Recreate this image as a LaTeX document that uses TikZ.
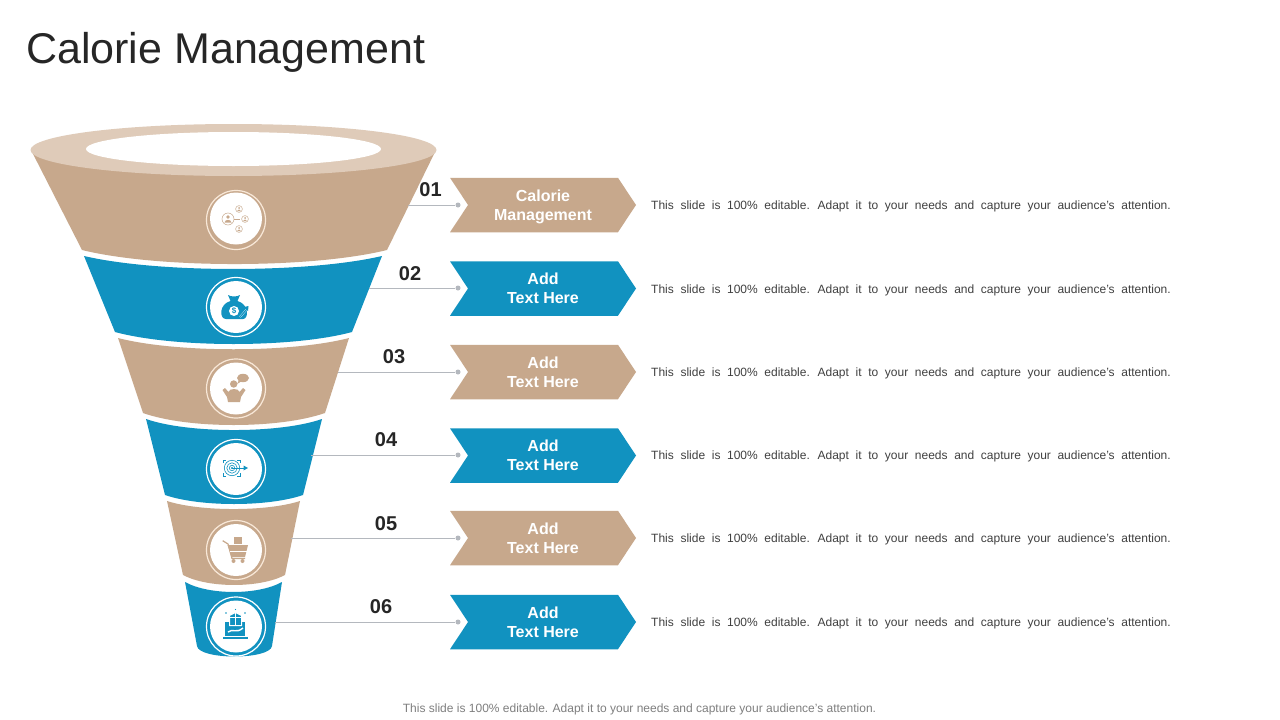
\documentclass[tikz,border=0pt]{standalone}
\usepackage{fontspec}
\setmainfont{Liberation Sans}
\usetikzlibrary{shapes.symbols}
\definecolor{tanc}{HTML}{C7A88C}
\definecolor{tanl}{HTML}{DFCBB9}
\definecolor{tanr}{HTML}{F8E8D8}
\definecolor{bluec}{HTML}{1192C0}
\definecolor{darkc}{HTML}{262626}
\definecolor{bodyc}{HTML}{404040}
\definecolor{leadc}{HTML}{B4B8BE}
\definecolor{footc}{HTML}{7F7F7F}
\newcommand{\bodytext}{This slide is 100\% editable. Adapt it to your needs and capture your audience's attention.}
\newcommand{\widewords}{\spaceskip=6.65pt\relax}
\newcommand{\lift}{\rule{0pt}{15.5pt}}
\begin{document}
\begin{tikzpicture}[x=1pt,y=-1pt]
    \tikzstyle{title}=[anchor=west,inner sep=0pt,text=darkc,font=\fontsize{43}{50}\selectfont]
    \tikzstyle{num}=[inner sep=0pt,text=darkc,font=\bfseries\fontsize{20}{24}\selectfont]
    \tikzstyle{desc}=[anchor=west,inner sep=0pt,text=bodyc,font=\fontsize{12}{14}\selectfont]
    \tikzstyle{foot}=[inner sep=0pt,text=footc,font=\fontsize{12}{14}\selectfont]
    \tikzstyle{tag}=[shape=signal,signal from=west,signal to=east,signal pointer angle=113,minimum width=186pt,minimum height=54.5pt,inner sep=0pt,text=white,align=center,font=\bfseries\fontsize{16}{19}\selectfont]
    \tikzstyle{ring}=[circle,minimum size=59pt,inner sep=0pt,line width=1.2pt]
    \tikzstyle{disc}=[circle,fill=white,minimum size=52pt,inner sep=0pt]
    \tikzstyle{dot}=[circle,fill=leadc,minimum size=5pt,inner sep=0pt]
    \tikzstyle{lead}=[draw=leadc,line width=0.9pt]

    \useasboundingbox (0,0) rectangle (1280,720);
    \fill[white] (0,0) rectangle (1280,720);

    \node[title] (head) at (26,52) {Calorie Management};

    % funnel
    \fill[tanc] (31,150) -- (82,250) .. controls (158,268.7) and (311,268.7) .. (387,250) -- (436,150) -- cycle;
    \fill[tanl] (233.5,150) ellipse [x radius=203,y radius=26];
    \fill[white] (233.5,149) ellipse [x radius=147.5,y radius=17];
    \fill[bluec] (84,256) .. controls (158,273.3) and (308,273.3) .. (382,256) -- (352,332) .. controls (293,348) and (174,348) .. (115,332) -- cycle;
    \fill[tanc] (118,338) .. controls (176,353) and (291,353) .. (349,338) -- (325,413) .. controls (279,429) and (188,429) .. (143,413) -- cycle;
    \fill[bluec] (146,419) .. controls (188,433.7) and (280,433.7) .. (322,419) -- (303,495) .. controls (268,507) and (200,507) .. (165,495) -- cycle;
    \fill[tanc] (167,501) .. controls (200,511.7) and (267,511.7) .. (300,501) -- (285,575) .. controls (260,588.3) and (208,588.3) .. (183,575) -- cycle;
    \fill[bluec] (185,582) .. controls (209,595.3) and (258,595.3) .. (282,582) -- (272,646) .. controls (270,660) and (199,660) .. (197,646) -- cycle;

    \node[ring,draw=tanr] (r1) at (236,220) {};
    \node[ring,draw=white] (r2) at (236,307) {};
    \node[ring,draw=tanr] (r3) at (236,388.5) {};
    \node[ring,draw=white] (r4) at (236,469) {};
    \node[ring,draw=tanr] (r5) at (236,550) {};
    \node[ring,draw=white] (r6) at (236,626.5) {};
    \node[disc] (c1) at (236,218.5) {};
    \node[disc] (c2) at (236,307) {};
    \node[disc] (c3) at (236,388.5) {};
    \node[disc] (c4) at (236,469) {};
    \node[disc] (c5) at (236,550) {};
    \node[disc] (c6) at (236,626.5) {};

    % people
    \draw[tanc,line width=0.5pt] (228,219) circle (6) (239,209) circle (3.4) (245,219) circle (3.4) (239,229) circle (3.4);
    \fill[tanc] (228,217) circle (1.8) (224.5,222.5) .. controls (225,219) and (231,219) .. (231.5,222.5) -- cycle;
    \fill[tanc] (239,208) circle (1) (237,211) .. controls (237.5,209) and (240.5,209) .. (241,211) -- cycle;
    \fill[tanc] (245,218) circle (1) (243,221) .. controls (243.5,219) and (246.5,219) .. (247,221) -- cycle;
    \fill[tanc] (239,228) circle (1) (237,231) .. controls (237.5,229) and (240.5,229) .. (241,231) -- cycle;
    \draw[tanc,line width=0.5pt] (234,219) -- (240,219);

    % money bag
    \fill[bluec] (228,295) .. controls (231,297) and (237,297) .. (240,295) -- (237.5,301) .. controls (249,304) and (249,319) .. (243,319) -- (226,319) .. controls (219,319) and (219,304) .. (230.5,301) -- cycle;
    \fill[white] (234,311) circle (5);
    \node[inner sep=0pt,text=bluec,font=\bfseries\fontsize{8}{8}\selectfont] (bucks) at (234,311) {\$};
    \draw[white,line width=1.8pt] (240,317) -- (247,309);
    \draw[bluec,line width=1.2pt] (240,317) -- (247,309);
    \fill[bluec] (248.5,306) -- (248,311) -- (244,307) -- cycle;

    % speaker
    \fill[tanc] (233.7,384) circle (3.7);
    \fill[tanc] (222.5,390) -- (225,388) -- (228.5,392) .. controls (229,388) and (239,388) .. (239.5,392) -- (243,388) -- (245.5,390) -- (241,397) -- (240,402) -- (228,402) -- (227,397) -- cycle;
    \fill[tanc] (243,378) ellipse [x radius=6,y radius=4.2];
    \fill[tanc] (239,380) -- (237,384) -- (242,381) -- cycle;

    % target
    \draw[bluec,line width=0.6pt] (232,468) circle (2.7) (232,468) circle (5.2) (232,468) circle (7.7);
    \fill[bluec] (232,468) circle (1.2);
    \draw[bluec,line width=0.7pt] (223,463) -- (223,460) -- (226,460) (237,460) -- (240,460) -- (240,463) (240,473) -- (240,476) -- (237,476) (226,476) -- (223,476) -- (223,473);
    \draw[bluec,line width=0.9pt] (232,468) -- (246,468);
    \fill[bluec] (248,468) -- (243.5,465.5) -- (243.5,470.5) -- cycle;

    % cart
    \fill[tanc] (233.5,537) rectangle (241.5,544);
    \draw[tanc,line width=1.2pt] (222.7,540.7) -- (228,544) -- (232,558.5) -- (245,558.5);
    \fill[tanc] (227.5,545) -- (248,545) -- (245,557) -- (231.5,557) -- cycle;
    \draw[white,line width=0.8pt] (230,551) -- (247,551);
    \fill[tanc] (233.5,561) circle (2) (242.5,561) circle (2);

    % laptop
    \fill[bluec] (225,622) rectangle (245,636);
    \fill[bluec] (222.7,636.5) rectangle (248,638.5);
    \draw[white,line width=1pt,fill=bluec] (229.5,615.5) -- (235.5,612.5) -- (241.5,615.5) -- (241.5,625.5) -- (229.5,625.5) -- cycle;
    \draw[white,line width=0.6pt] (235.5,613) -- (235.5,625) (230,617) -- (241,617);
    \draw[white,line width=1.4pt] (228,632) .. controls (233,628) and (236,634) .. (243,628);
    \fill[bluec] (226,613) circle (0.8) (245,613) circle (0.8) (235.5,609.5) circle (0.7);

    % tags
    \node[tag,fill=tanc] (t1) at (543,205) {\lift Calorie\\Management};
    \node[tag,fill=bluec] (t2) at (543,288.5) {Add\\Text Here};
    \node[tag,fill=tanc] (t3) at (543,372) {Add\\Text Here};
    \node[tag,fill=bluec] (t4) at (543,455.5) {Add\\Text Here};
    \node[tag,fill=tanc] (t5) at (543,538) {Add\\Text Here};
    \node[tag,fill=bluec] (t6) at (543,622) {Add\\Text Here};

    \node[num] (n1) at (430.5,190) {01};
    \node[num] (n2) at (410,274) {02};
    \node[num] (n3) at (394,357) {03};
    \node[num] (n4) at (386,440) {04};
    \node[num] (n5) at (386,524) {05};
    \node[num] (n6) at (381,607) {06};

    \coordinate (e1) at (408,205);
    \coordinate (e2) at (369,288);
    \coordinate (e3) at (338,372);
    \coordinate (e4) at (311,455);
    \coordinate (e5) at (291,538);
    \coordinate (e6) at (275,622);
    \node[dot] (d1) at (458,205) {};
    \node[dot] (d2) at (458,288) {};
    \node[dot] (d3) at (458,372) {};
    \node[dot] (d4) at (458,455) {};
    \node[dot] (d5) at (458,538) {};
    \node[dot] (d6) at (458,622) {};

          \draw [lead] (e1) -- (d1);
          \draw [lead] (e2) -- (d2);
          \draw [lead] (e3) -- (d3);
          \draw [lead] (e4) -- (d4);
          \draw [lead] (e5) -- (d5);
          \draw [lead] (e6) -- (d6);

    \node[desc] (b1) at (651,206.5) {\widewords\bodytext};
    \node[desc] (b2) at (651,290.5) {\widewords\bodytext};
    \node[desc] (b3) at (651,373.5) {\widewords\bodytext};
    \node[desc] (b4) at (651,456.5) {\widewords\bodytext};
    \node[desc] (b5) at (651,539.5) {\widewords\bodytext};
    \node[desc] (b6) at (651,623.5) {\widewords\bodytext};

    \node[foot] (note) at (639.5,709.5) {This slide is 100\% editable. Adapt it to your needs and capture your audience’s attention.};
\end{tikzpicture}
\end{document}
